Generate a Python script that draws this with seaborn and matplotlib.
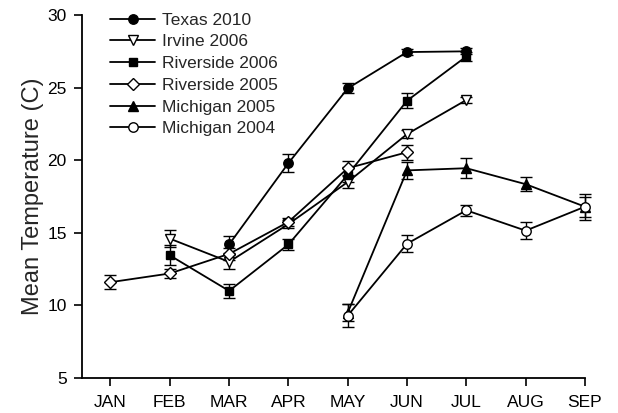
import numpy as np
import pandas as pd
import matplotlib
matplotlib.use("Agg")
import matplotlib.pyplot as plt
import seaborn as sns

months = ["JAN", "FEB", "MAR", "APR", "MAY", "JUN", "JUL", "AUG", "SEP"]

texas_2010_months = ["MAR", "APR", "MAY", "JUN", "JUL"]
texas_2010 = [14.2, 19.8, 24.95, 27.45, 27.5]
texas_2010_err = [0.6, 0.6, 0.35, 0.2, 0.2]

irvine_2006_months = ["FEB", "MAR", "APR", "MAY", "JUN", "JUL"]
irvine_2006 = [14.6, 13.0, 15.6, 18.5, 21.8, 24.15]
irvine_2006_err = [0.6, 0.5, 0.3, 0.4, 0.3, 0.2]

riverside_2006_months = ["FEB", "MAR", "APR", "MAY", "JUN", "JUL"]
riverside_2006 = [13.45, 11.0, 14.2, 19.0, 24.1, 27.15]
riverside_2006_err = [0.7, 0.5, 0.4, 0.5, 0.5, 0.3]

riverside_2005_months = ["JAN", "FEB", "MAR", "APR", "MAY", "JUN"]
riverside_2005 = [11.6, 12.2, 13.55, 15.75, 19.45, 20.55]
riverside_2005_err = [0.5, 0.3, 0.4, 0.3, 0.5, 0.5]

michigan_2005_months = ["MAY", "JUN", "JUL", "AUG", "SEP"]
michigan_2005 = [9.5, 19.3, 19.45, 18.35, 16.8]
michigan_2005_err = [0.6, 0.6, 0.7, 0.5, 0.9]

michigan_2004_months = ["MAY", "JUN", "JUL", "AUG", "SEP"]
michigan_2004 = [9.3, 14.25, 16.55, 15.15, 16.8]
michigan_2004_err = [0.8, 0.6, 0.4, 0.6, 0.7]

series = [
    ("Texas 2010", texas_2010_months, texas_2010, texas_2010_err, "o", "black"),
    ("Irvine 2006", irvine_2006_months, irvine_2006, irvine_2006_err, "v", "white"),
    ("Riverside 2006", riverside_2006_months, riverside_2006, riverside_2006_err, "s", "black"),
    ("Riverside 2005", riverside_2005_months, riverside_2005, riverside_2005_err, "D", "white"),
    ("Michigan 2005", michigan_2005_months, michigan_2005, michigan_2005_err, "^", "black"),
    ("Michigan 2004", michigan_2004_months, michigan_2004, michigan_2004_err, "o", "white"),
]

sns.set_style("ticks")
plt.rcParams["font.family"] = ["Liberation Sans", "DejaVu Sans"]

fig = plt.figure(figsize=(6.18, 4.13), dpi=100)
ax = fig.add_axes([0.1327, 0.0847, 0.8139, 0.8789])

for name, mons, vals, errs, mk, fc in series:
    df = pd.DataFrame({"x": [months.index(m) for m in mons], "y": vals})
    ms = 6.8
    if mk == "s":
        ms = 6.2
    if mk == "D":
        ms = 5.8
    ebar = ax.errorbar(df["x"], df["y"], yerr=errs, fmt="none", ecolor="black",
                       elinewidth=1.0, capsize=4, capthick=1.0, zorder=2)
    for art in ebar.lines[1] + ebar.lines[2]:
        art.set_clip_on(False)
    sns.lineplot(data=df, x="x", y="y", ax=ax, color="black", linewidth=1.3,
                 marker=mk, markersize=ms, markerfacecolor=fc,
                 markeredgecolor="black", markeredgewidth=1.0, label=name,
                 zorder=3, clip_on=False)

ax.set_xlim(-0.48, 8)
ax.set_ylim(5, 30)
ax.set_xticks(range(len(months)))
ax.set_xticklabels(months)
ax.set_yticks([5, 10, 15, 20, 25, 30])
ax.set_xlabel("")
ax.set_ylabel("Mean Temperature (C)", fontsize=17, labelpad=2)
ax.tick_params(axis="both", labelsize=12.5, direction="out", length=6, width=1.2, colors="black")
ax.tick_params(axis="x", pad=6)
ax.tick_params(axis="y", pad=5)
for s in ["left", "bottom"]:
    ax.spines[s].set_linewidth(1.3)
    ax.spines[s].set_color("black")
sns.despine(ax=ax)

leg = ax.legend(loc="upper left", bbox_to_anchor=(0.025, 1.05), frameon=False,
                fontsize=12.5, handlelength=2.6, labelspacing=0.38, handletextpad=0.4)

fig.savefig("out.png", dpi=100)
